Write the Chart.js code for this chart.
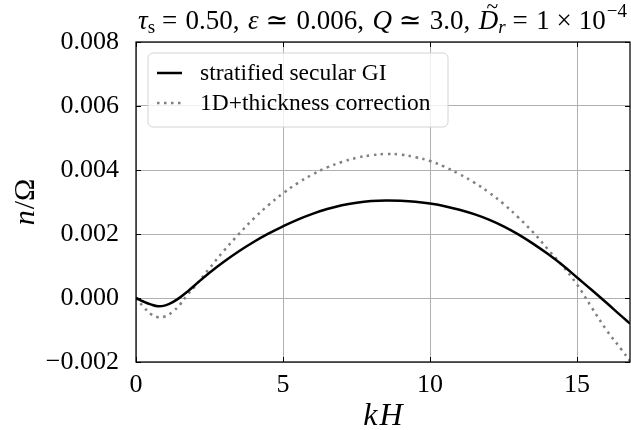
<!DOCTYPE html>
<html>
<head>
<meta charset="utf-8">
<script src="https://cdn.jsdelivr.net/npm/chart.js@4.4.1/dist/chart.umd.min.js"></script>
<style>
html,body{margin:0;padding:0;background:#fff;}
#wrap{width:631px;height:430px;}
</style>
</head>
<body>
<div id="wrap"><canvas id="c" width="631" height="430"></canvas></div>
<script>
// ---- data ----
const kH = [0, 0.25, 0.5, 0.75, 1.0, 1.25, 1.5, 1.75, 2, 2.5, 3, 3.5, 4, 4.5, 5, 5.5, 6, 6.5, 7, 7.5, 8, 8.5, 9, 9.5, 10, 10.5, 11, 11.5, 12, 12.5, 13, 13.5, 14, 14.5, 15, 15.5, 16, 16.5, 16.8];
const nStratified = [0, -0.00011, -0.0002, -0.00026, -0.00023, -0.00013, 0.00002, 0.0002, 0.0004, 0.00079, 0.00114, 0.00146, 0.00175, 0.00201, 0.00224, 0.00245, 0.00263, 0.00278, 0.0029, 0.00298, 0.00303, 0.00305, 0.00304, 0.00301, 0.00295, 0.00287, 0.00276, 0.00262, 0.00245, 0.00224, 0.00199, 0.0017, 0.00138, 0.00103, 0.00064, 0.00025, -0.00015, -0.00056, -0.0008];
const nThickness = [0, -0.00027, -0.0005, -0.0006, -0.00057, -0.00043, -0.0002, 0.0001, 0.00036, 0.00093, 0.00149, 0.002, 0.00248, 0.0029, 0.00327, 0.00359, 0.00386, 0.00408, 0.00425, 0.00438, 0.00446, 0.0045, 0.00448, 0.0044, 0.00428, 0.0041, 0.00387, 0.00361, 0.0033, 0.00294, 0.00252, 0.00206, 0.00153, 0.00101, 0.00042, -0.0003, -0.001, -0.0016, -0.00197];
const seriesLabels = ["stratified secular GI", "1D+thickness correction"];
const xTicks = [0, 5, 10, 15];
const yTicks = [-0.002, 0, 0.002, 0.004, 0.006, 0.008];

const SERIF = "'Liberation Serif', 'DejaVu Serif', serif";

function pts(xs, ys){ return xs.map((x,i)=>({x:x, y:ys[i]})); }

function drawPieces(ctx, pieces, x, y, gapScale){
  gapScale = gapScale || 1;
  let cx = x;
  for (const p of pieces){
    if (p.gap){ cx += p.gap * gapScale; continue; }
    ctx.font = (p.it ? 'italic ' : '') + p.size + 'px ' + SERIF;
    ctx.fillText(p.t, cx, y + (p.dy||0));
    const w = ctx.measureText(p.t).width;
    if (p.tilde){
      ctx.font = p.size*0.8 + 'px ' + SERIF;
      ctx.fillText('~', cx + w*0.4, y - p.size*0.6);
    }
    cx += w + (p.kern||0);
  }
  return cx - x;
}
function measurePieces(ctx, pieces){
  let w = 0, g = 0;
  for (const p of pieces){
    if (p.gap){ g += p.gap; continue; }
    ctx.font = (p.it ? 'italic ' : '') + p.size + 'px ' + SERIF;
    w += ctx.measureText(p.t).width + (p.kern||0);
  }
  return {text: w, gaps: g};
}

const overlay = {
  id: 'overlay',
  afterDraw(chart){
    const ctx = chart.ctx, a = chart.chartArea;
    const xs = chart.scales.x, ys = chart.scales.y;
    ctx.save();
    // inward ticks
    ctx.strokeStyle = '#000'; ctx.lineWidth = 1;
    ctx.beginPath();
    for (const v of xTicks){
      const px = Math.round(xs.getPixelForValue(v)) + 0.5;
      ctx.moveTo(px, a.bottom); ctx.lineTo(px, a.bottom - 5);
      ctx.moveTo(px, a.top); ctx.lineTo(px, a.top + 5);
    }
    for (const v of yTicks){
      const py = Math.round(ys.getPixelForValue(v)) + 0.5;
      ctx.moveTo(a.left, py); ctx.lineTo(a.left + 5, py);
      ctx.moveTo(a.right, py); ctx.lineTo(a.right - 5, py);
    }
    ctx.stroke();
    // frame
    ctx.lineWidth = 1.25;
    ctx.strokeRect(a.left, a.top, a.right - a.left, a.bottom - a.top);

    // legend
    const lx = 148, ly = 53, lw = 300, lh = 74, r = 5;
    ctx.beginPath();
    ctx.moveTo(lx + r, ly); ctx.lineTo(lx + lw - r, ly); ctx.arcTo(lx + lw, ly, lx + lw, ly + r, r);
    ctx.lineTo(lx + lw, ly + lh - r); ctx.arcTo(lx + lw, ly + lh, lx + lw - r, ly + lh, r);
    ctx.lineTo(lx + r, ly + lh); ctx.arcTo(lx, ly + lh, lx, ly + lh - r, r);
    ctx.lineTo(lx, ly + r); ctx.arcTo(lx, ly, lx + r, ly, r);
    ctx.closePath();
    ctx.fillStyle = 'rgba(255,255,255,0.8)'; ctx.fill();
    ctx.strokeStyle = '#d4d4d4'; ctx.lineWidth = 1; ctx.stroke();
    const rows = [73, 103];
    chart.data.datasets.forEach((ds, i) => {
      ctx.beginPath();
      ctx.strokeStyle = ds.borderColor; ctx.lineWidth = ds.borderWidth;
      ctx.setLineDash(ds.borderDash || []);
      ctx.moveTo(157, rows[i]); ctx.lineTo(182, rows[i]); ctx.stroke();
      ctx.setLineDash([]);
      ctx.fillStyle = '#000'; ctx.font = '23.5px ' + SERIF;
      ctx.textBaseline = 'middle'; ctx.textAlign = 'left';
      ctx.fillText(ds.label, 200, rows[i] + 1);
    });

    // title
    ctx.fillStyle = '#000'; ctx.textBaseline = 'alphabetic'; ctx.textAlign = 'left';
    const S = 27, s = 19;
    const title = [
      {t:'\u03C4', it:true, size:S}, {t:'s', size:s, dy:4}, {gap:5}, {t:'=', size:S}, {gap:6}, {t:'0.50,', size:S}, {gap:6},
      {t:'\u03B5', it:true, size:S}, {gap:5}, {t:'\u2243', size:S}, {gap:6}, {t:'0.006,', size:S}, {gap:6},
      {t:'Q', it:true, size:S}, {gap:5}, {t:'\u2243', size:S}, {gap:6}, {t:'3.0,', size:S}, {gap:6},
      {t:'D', it:true, size:S, tilde:true}, {t:'r', it:true, size:s, dy:4}, {gap:5}, {t:'=', size:S}, {gap:6}, {t:'1', size:S}, {gap:5}, {t:'\u00D7', size:S}, {gap:5}, {t:'10', size:S, kern:1}, {t:'\u2212' + '4', size:s, dy:-12}
    ];
    const m = measurePieces(ctx, title);
    const target = 627 - 138;
    const gs = Math.max(0.5, (target - m.text) / m.gaps);
    drawPieces(ctx, title, 138, 29, gs);

    // axis titles
    const xl = [{t:'k', it:true, size:32, kern:2}, {t:'H', it:true, size:32}];
    const xm = measurePieces(ctx, xl);
    drawPieces(ctx, xl, (a.left + a.right)/2 - xm.text/2, 425);
    ctx.save();
    ctx.translate(34, (a.top + a.bottom)/2);
    ctx.rotate(-Math.PI/2);
    const yl = [{t:'n', it:true, size:30, kern:1}, {t:'/\u03A9', size:30}];
    const ym = measurePieces(ctx, yl);
    drawPieces(ctx, yl, -ym.text/2, 0);
    ctx.restore();
    ctx.restore();
  }
};

new Chart(document.getElementById('c'), {
  type: 'scatter',
  data: {
    datasets: [
      { label: seriesLabels[0], data: pts(kH, nStratified), showLine: true, borderColor: '#000000', borderWidth: 2.5, pointRadius: 0, tension: 0.4, fill: false },
      { label: seriesLabels[1], data: pts(kH, nThickness), showLine: true, borderColor: '#808080', borderWidth: 2.5, borderDash: [2.5, 4.5], pointRadius: 0, tension: 0.4, fill: false }
    ]
  },
  options: {
    responsive: false,
    animation: false,
    layout: { padding: { left: 0, right: 1, top: 42, bottom: 0 } },
    plugins: { legend: { display: false }, title: { display: false }, tooltip: { enabled: false } },
    scales: {
      x: {
        type: 'linear', min: 0, max: 16.8,
        afterFit(scale){ scale.height = 68; },
        afterBuildTicks(scale){ scale.ticks = xTicks.map(v => ({value: v})); },
        ticks: { includeBounds: false, color: '#000', padding: 8, font: { family: SERIF, size: 26 }, callback: v => String(v), maxRotation: 0 },
        grid: { color: '#b0b0b0', lineWidth: 1, drawTicks: false },
        border: { display: false }
      },
      y: {
        type: 'linear', min: -0.002, max: 0.008,
        afterFit(scale){ scale.width = 136; },
        afterBuildTicks(scale){ scale.ticks = yTicks.map(v => ({value: v})); },
        ticks: { includeBounds: false, color: '#000', padding: 17, font: { family: SERIF, size: 26 }, callback: v => (v < 0 ? '\u2212' : '') + Math.abs(v).toFixed(3) },
        grid: { color: '#b0b0b0', lineWidth: 1, drawTicks: false },
        border: { display: false }
      }
    }
  },
  plugins: [overlay]
});
</script>
</body>
</html>
